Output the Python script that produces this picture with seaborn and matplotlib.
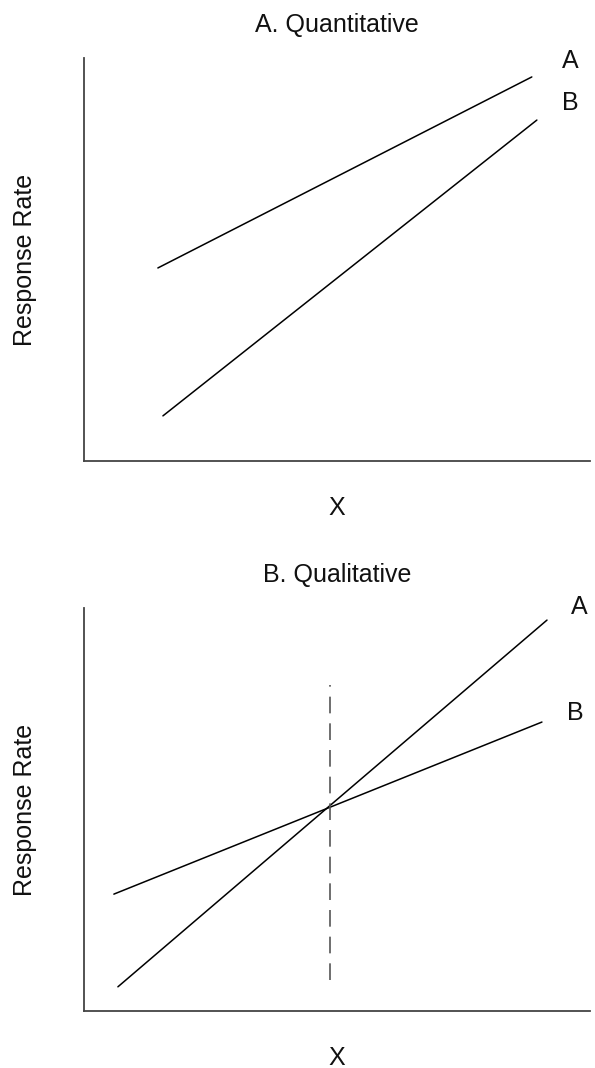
import matplotlib
matplotlib.use("Agg")
import matplotlib.pyplot as plt
import seaborn as sns
import pandas as pd

sns.set_theme(style="white")
plt.rcParams['font.family'] = ['Liberation Sans', 'DejaVu Sans']

# Panel A: Quantitative interaction
quant_series = ["A", "A", "B", "B"]
quant_x = [1.46, 8.85, 1.56, 8.95]
quant_y = [4.79, 9.53, 1.12, 8.46]

# Panel B: Qualitative interaction
qual_series = ["A", "A", "B", "B"]
qual_x = [0.67, 9.15, 0.59, 9.05]
qual_y = [0.60, 9.70, 2.90, 7.17]
cross_x = 4.86
cross_y_range = [0.77, 8.09]

titles = ["A. Quantitative", "B. Qualitative"]
xlabel = "X"
ylabel = "Response Rate"
label_pos_quant = {"A": (9.45, 9.93), "B": (9.45, 8.88)}
label_pos_qual = {"A": (9.62, 10.02), "B": (9.55, 7.39)}

W, H = 595, 1068
fig = plt.figure(figsize=(W / 100, H / 100), dpi=100)

def make_ax(top_px, bottom_px):
    left, right = 84, 590
    return fig.add_axes([left / W, 1 - bottom_px / H, (right - left) / W, (bottom_px - top_px) / H])

ax1 = make_ax(58, 461)
ax2 = make_ax(608, 1011)

df1 = pd.DataFrame({"series": quant_series, "x": quant_x, "y": quant_y})
df2 = pd.DataFrame({"series": qual_series, "x": qual_x, "y": qual_y})

FS = 18
for ax, df, title, lp in [(ax1, df1, titles[0], label_pos_quant),
                          (ax2, df2, titles[1], label_pos_qual)]:
    sns.lineplot(data=df, x="x", y="y", units="series", estimator=None,
                 color="black", linewidth=1.1, ax=ax, legend=False, sort=False)
    for ln in ax.lines:
        ln.set_clip_on(False)
    for name, (tx, ty) in lp.items():
        ax.text(tx, ty, name, fontsize=FS, ha="left", va="center", color="#111111")
    ax.set_xlim(0, 10)
    ax.set_ylim(0, 10)
    ax.set_xticks([])
    ax.set_yticks([])
    ax.set_xlabel(xlabel, fontsize=FS, labelpad=25, color="#111111")
    ax.set_ylabel(ylabel, fontsize=FS, labelpad=34, color="#111111")
    ax.set_title(title, fontsize=FS, pad=18.5, color="#111111")
    for s in ["top", "right"]:
        ax.spines[s].set_visible(False)
    for s in ["left", "bottom"]:
        ax.spines[s].set_color("#444444")
        ax.spines[s].set_linewidth(1.3)

ax2.plot([cross_x, cross_x], cross_y_range, color="#555555", linewidth=1.2,
         linestyle=(0, (10, 6)))

fig.savefig("out.png", dpi=100)
